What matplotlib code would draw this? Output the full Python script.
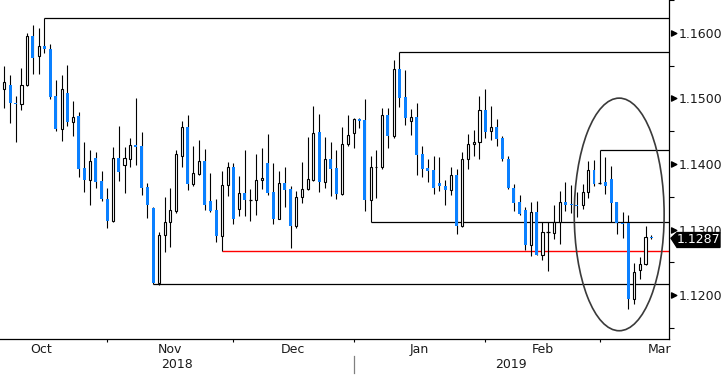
import matplotlib
matplotlib.use("Agg")
import matplotlib.pyplot as plt
import matplotlib.transforms as mtransforms
from matplotlib.patches import Ellipse, Polygon
from matplotlib.path import Path
import numpy as np
import pandas as pd

# EUR/USD daily candles, 5 Oct 2018 - 13 Mar 2019 (weekdays incl. holidays)
dates = pd.bdate_range("2018-10-05", periods=114)

opens = [1.1515, 1.1521, 1.1493, 1.1492, 1.1521, 1.1595, 1.1565, 1.1580, 1.1576, 1.1503,
         1.1454, 1.1509, 1.1464, 1.1473, 1.1394, 1.1376, 1.1409, 1.1374, 1.1347, 1.1313,
         1.1409, 1.1399, 1.1408, 1.1429, 1.1427, 1.1365, 1.1333, 1.1218, 1.1292, 1.1311,
         1.1329, 1.1412, 1.1456, 1.1370, 1.1385, 1.1405, 1.1344, 1.1330, 1.1290, 1.1368,
         1.1396, 1.1331, 1.1356, 1.1345, 1.1345, 1.1375, 1.1402, 1.1358, 1.1317, 1.1371,
         1.1362, 1.1305, 1.1350, 1.1362, 1.1376, 1.1449, 1.1373, 1.1408, 1.1394, 1.1354,
         1.1431, 1.1448, 1.1468, 1.1467, 1.1345, 1.1395, 1.1396, 1.1475, 1.1442, 1.1545,
         1.1502, 1.1465, 1.1471, 1.1415, 1.1394, 1.1391, 1.1371, 1.1367, 1.1361, 1.1384,
         1.1305, 1.1408, 1.1430, 1.1434, 1.1482, 1.1450, 1.1457, 1.1440, 1.1408, 1.1364,
         1.1342, 1.1330, 1.1277, 1.1327, 1.1262, 1.1297, 1.1295, 1.1311, 1.1342, 1.1339,
         1.1338, 1.1338, 1.1358, 1.1391, 1.1371, 1.1372, 1.1377, 1.1342, 1.1310, 1.1310,
         1.1194, 1.1239, 1.1247, 1.1289]
highs = [1.1550, 1.1536, 1.1504, 1.1547, 1.1600, 1.1612, 1.1608, 1.1623, 1.1583, 1.1528,
         1.1536, 1.1551, 1.1496, 1.1479, 1.1433, 1.1422, 1.1418, 1.1389, 1.1363, 1.1426,
         1.1458, 1.1426, 1.1440, 1.1501, 1.1449, 1.1371, 1.1334, 1.1296, 1.1350, 1.1364,
         1.1421, 1.1465, 1.1474, 1.1427, 1.1436, 1.1423, 1.1386, 1.1346, 1.1389, 1.1403,
         1.1402, 1.1382, 1.1421, 1.1362, 1.1415, 1.1424, 1.1446, 1.1402, 1.1389, 1.1395,
         1.1367, 1.1359, 1.1403, 1.1441, 1.1488, 1.1476, 1.1441, 1.1433, 1.1421, 1.1456,
         1.1474, 1.1470, 1.1470, 1.1499, 1.1413, 1.1421, 1.1485, 1.1486, 1.1559, 1.1571,
         1.1543, 1.1484, 1.1493, 1.1427, 1.1408, 1.1412, 1.1411, 1.1376, 1.1395, 1.1392,
         1.1419, 1.1446, 1.1452, 1.1503, 1.1515, 1.1489, 1.1468, 1.1442, 1.1412, 1.1370,
         1.1353, 1.1334, 1.1342, 1.1344, 1.1312, 1.1312, 1.1337, 1.1359, 1.1373, 1.1368,
         1.1358, 1.1369, 1.1405, 1.1406, 1.1421, 1.1411, 1.1397, 1.1342, 1.1327, 1.1322,
         1.1249, 1.1259, 1.1306, 1.1292]
lows = [1.1486, 1.1463, 1.1434, 1.1482, 1.1519, 1.1537, 1.1537, 1.1569, 1.1499, 1.1450,
        1.1435, 1.1458, 1.1442, 1.1381, 1.1358, 1.1338, 1.1363, 1.1343, 1.1303, 1.1311,
        1.1374, 1.1356, 1.1395, 1.1398, 1.1353, 1.1318, 1.1217, 1.1216, 1.1266, 1.1273,
        1.1325, 1.1396, 1.1361, 1.1367, 1.1383, 1.1330, 1.1327, 1.1281, 1.1268, 1.1352,
        1.1308, 1.1321, 1.1321, 1.1313, 1.1323, 1.1362, 1.1353, 1.1308, 1.1316, 1.1334,
        1.1272, 1.1302, 1.1340, 1.1361, 1.1374, 1.1358, 1.1364, 1.1351, 1.1346, 1.1353,
        1.1428, 1.1425, 1.1455, 1.1328, 1.1311, 1.1349, 1.1392, 1.1425, 1.1440, 1.1487,
        1.1459, 1.1444, 1.1384, 1.1381, 1.1372, 1.1355, 1.1359, 1.1338, 1.1353, 1.1293,
        1.1304, 1.1393, 1.1413, 1.1408, 1.1439, 1.1437, 1.1428, 1.1404, 1.1362, 1.1328,
        1.1323, 1.1269, 1.1260, 1.1261, 1.1253, 1.1237, 1.1286, 1.1278, 1.1328, 1.1325,
        1.1320, 1.1331, 1.1348, 1.1366, 1.1369, 1.1355, 1.1311, 1.1294, 1.1288, 1.1179,
        1.1187, 1.1225, 1.1246, 1.1285]
closes = [1.1525, 1.1493, 1.1492, 1.1521, 1.1595, 1.1561, 1.1580, 1.1575, 1.1502, 1.1454,
          1.1515, 1.1464, 1.1472, 1.1393, 1.1376, 1.1404, 1.1373, 1.1346, 1.1313, 1.1409,
          1.1388, 1.1409, 1.1429, 1.1426, 1.1364, 1.1337, 1.1218, 1.1292, 1.1312, 1.1330,
          1.1416, 1.1456, 1.1370, 1.1386, 1.1404, 1.1338, 1.1329, 1.1290, 1.1368, 1.1395,
          1.1317, 1.1356, 1.1345, 1.1345, 1.1375, 1.1379, 1.1356, 1.1317, 1.1371, 1.1361,
          1.1306, 1.1350, 1.1362, 1.1377, 1.1448, 1.1373, 1.1407, 1.1393, 1.1354, 1.1431,
          1.1445, 1.1468, 1.1466, 1.1345, 1.1395, 1.1396, 1.1475, 1.1442, 1.1545, 1.1501,
          1.1470, 1.1471, 1.1414, 1.1393, 1.1390, 1.1364, 1.1366, 1.1361, 1.1383, 1.1305,
          1.1407, 1.1430, 1.1434, 1.1482, 1.1449, 1.1457, 1.1438, 1.1407, 1.1363, 1.1341,
          1.1324, 1.1277, 1.1327, 1.1262, 1.1297, 1.1297, 1.1312, 1.1342, 1.1338, 1.1338,
          1.1336, 1.1358, 1.1391, 1.1370, 1.1371, 1.1366, 1.1341, 1.1310, 1.1308, 1.1194,
          1.1236, 1.1247, 1.1289, 1.1287]

# candles whose high / low the horizontal levels start from
resistance_idx = [7, 69, 104]
support_idx = [26, 64]
red_idx = 38

blue = "#0a80ff"
txt = "#1a1a1a"

o = np.array(opens)
h = np.array(highs)
l = np.array(lows)
c = np.array(closes)
x = np.arange(len(dates))

fig = plt.figure(figsize=(7.22, 3.77), dpi=100)
ax = fig.add_axes([0, 0.1, 669 / 722, 0.9])
x0, x1 = -0.75, 116.1
ax.set_xlim(x0, x1)
ax.set_ylim(1.11329, 1.16470)

up = c > o
down = c < o
flat = c == o

ax.vlines(x, l, h, color="black", lw=0.8, zorder=2)
ax.bar(x[down], (o - c)[down], bottom=c[down], width=0.52, color=blue, zorder=3)
ax.bar(x[up], (c - o)[up], bottom=o[up], width=0.36, facecolor="white",
       edgecolor="black", lw=0.8, zorder=3)
ax.hlines(o[flat], x[flat] - 0.3, x[flat] + 0.3, color="black", lw=0.9, zorder=3)

# levels
ax.hlines(h[resistance_idx], resistance_idx, x1, color="black", lw=0.9, zorder=1)
ax.hlines(l[support_idx], support_idx, x1, color="black", lw=0.9, zorder=1)
ax.hlines(l[red_idx], red_idx, x1, color="red", lw=1.0, zorder=1)

ax.add_patch(Ellipse((107.4, 1.13232), 15.7, 0.03545, fill=False,
                     edgecolor="#3a3a3a", lw=1.2, zorder=4, clip_on=False))

# spines
for side in ["top", "left"]:
    ax.spines[side].set_visible(False)
for side in ["right", "bottom"]:
    ax.spines[side].set_linewidth(0.9)
    ax.spines[side].set_color("black")

# right price axis
yticks = [1.12, 1.13, 1.14, 1.15, 1.16]
ax.yaxis.tick_right()
ax.set_yticks(yticks)
ax.set_yticklabels(["%.4f" % v for v in yticks])
ax.set_yticks(np.arange(1.115, 1.165, 0.01), minor=True)
ax.tick_params(axis="y", which="major", length=0, pad=7.2, labelsize=9, labelcolor=txt)
ax.tick_params(axis="y", which="minor", length=3.6, width=0.8, color="black")

tri = Path([(0.4, -0.5), (1.4, 0.0), (0.4, 0.5), (0.4, -0.5)],
           [Path.MOVETO, Path.LINETO, Path.LINETO, Path.CLOSEPOLY])
ytrans = mtransforms.blended_transform_factory(ax.transAxes, ax.transData)
ax.plot(np.ones(len(yticks)), yticks, ls="none", marker=tri, ms=10.5, color="black",
        transform=ytrans, clip_on=False)

# last price box (sits over the 1.1300 label, as in the terminal)
last = c[-1]
top, bot = last + 0.00086, last - 0.00141
bt = mtransforms.blended_transform_factory(fig.transFigure, ax.transData)
box = Polygon([(671 / 722, last), (677 / 722, top), (720 / 722, top),
               (720 / 722, bot), (677 / 722, bot)],
              closed=True, facecolor="black", edgecolor="black", transform=bt,
              clip_on=False, zorder=5)
ax.add_patch(box)
ax.text(698.5 / 722, (top + bot) / 2, "%.4f" % last, transform=bt, color="white",
        ha="center", va="center", fontsize=9, zorder=6, clip_on=False)

# month / year axis
ext = pd.bdate_range("2018-09-01", "2019-03-31")
pos = pd.Series(np.arange(len(ext)) - ext.get_loc(dates[0]), index=ext)
month_end = pos.groupby(ext.to_period("M")).max()
ends = month_end.values
ax.set_xticks([e for e in ends if x0 < e < x1])
ax.set_xticklabels([])
ax.tick_params(axis="x", which="major", length=2.2, width=0.8, color="black")

xtrans = mtransforms.blended_transform_factory(ax.transData, ax.transAxes)
for i in range(1, len(ends)):
    ax.text((ends[i - 1] + ends[i]) / 2, -0.0295, month_end.index[i].strftime("%b"),
            transform=xtrans, ha="center", va="center", fontsize=9, color=txt)

year_end = month_end[month_end.index.month == 12].values[0]
ax.plot([year_end, year_end], [-0.049, -0.0993], color="#808080", lw=0.9,
        transform=xtrans, clip_on=False)
ax.text((x0 + year_end) / 2, -0.0757, "2018", transform=xtrans, ha="center",
        va="center", fontsize=9, color=txt)
ax.text((year_end + x1) / 2, -0.0757, "2019", transform=xtrans, ha="center",
        va="center", fontsize=9, color=txt)

fig.savefig("out.png", dpi=100)
